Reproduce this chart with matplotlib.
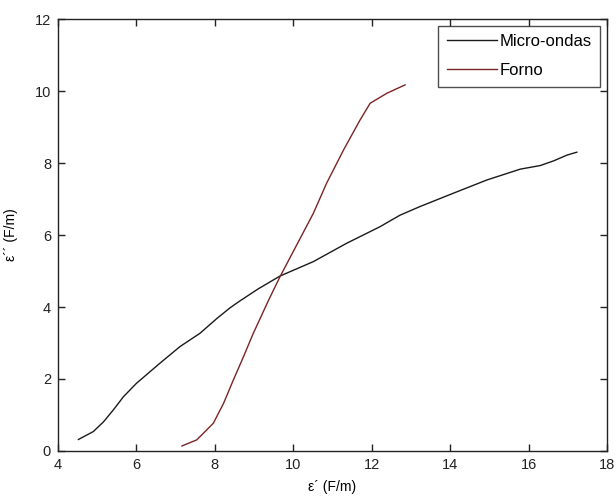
import matplotlib
matplotlib.use("Agg")
import matplotlib.pyplot as plt

plt.rcParams['font.family'] = ['Liberation Sans', 'DejaVu Sans']

# Micro-ondas series
micro_x = [4.52, 4.9, 5.16, 5.41, 5.67, 6.0, 6.6, 7.11, 7.62, 8.05, 8.39, 8.64,
           9.1, 9.66, 10.51, 11.36, 12.21, 12.72, 13.23, 14.08, 14.94, 15.79,
           16.3, 16.64, 16.98, 17.23]
micro_y = [0.32, 0.54, 0.81, 1.14, 1.51, 1.88, 2.44, 2.9, 3.27, 3.68, 3.98, 4.17,
           4.5, 4.86, 5.26, 5.77, 6.23, 6.55, 6.79, 7.16, 7.53, 7.83, 7.93, 8.06,
           8.22, 8.3]

# Forno series
forno_x = [7.16, 7.54, 7.96, 8.22, 8.47, 8.73, 8.98, 9.37, 9.66, 10.51, 10.85,
           11.28, 11.70, 11.96, 12.39, 12.85]
forno_y = [0.14, 0.31, 0.77, 1.32, 1.97, 2.62, 3.27, 4.19, 4.84, 6.6, 7.44,
           8.36, 9.19, 9.66, 9.94, 10.17]

x_ticks = [4, 6, 8, 10, 12, 14, 16, 18]
y_ticks = [0, 2, 4, 6, 8, 10, 12]

fig = plt.figure(figsize=(6.16, 4.99), dpi=100)
ax = fig.add_axes([0.0942, 0.0962, 0.8912, 0.8657])

ax.plot(micro_x, micro_y, color='#1a1a1a', lw=1.0, label='Micro-ondas')
ax.plot(forno_x, forno_y, color='#7a2424', lw=1.0, label='Forno')

ax.set_xlim(4, 18)
ax.set_ylim(0, 12)
ax.set_xticks(x_ticks)
ax.set_yticks(y_ticks)
ax.tick_params(direction='in', length=5, width=1, top=True, right=True,
               labelsize=10.5, colors='#222222', pad=5)
for s in ax.spines.values():
    s.set_linewidth(1.0)
    s.set_color('#222222')

ax.set_xlabel('ε´ (F/m)', fontsize=10, labelpad=6)
ax.set_ylabel('ε´´ (F/m)', fontsize=10, labelpad=12)

leg = ax.legend(loc='upper right', fontsize=12, frameon=True, fancybox=False,
                edgecolor='#222222', borderaxespad=0.4, handlelength=3.0,
                handletextpad=0.2, borderpad=0.5, labelspacing=0.85)
leg.get_frame().set_linewidth(1.0)

fig.savefig('out.png', dpi=100)
